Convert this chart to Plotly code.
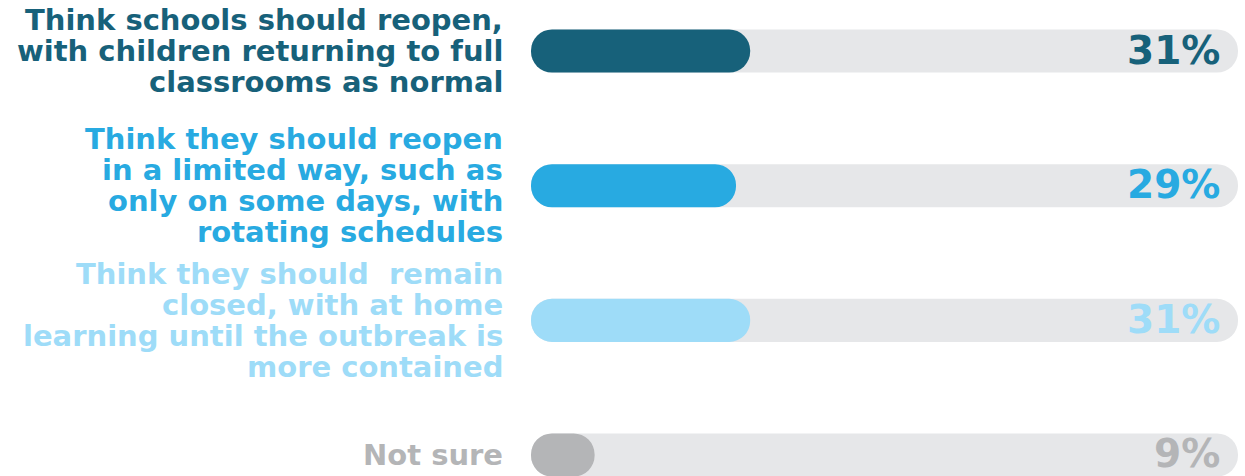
import plotly.graph_objects as go

# ---- data ----
categories = [
    "Think schools should reopen, with children returning to full classrooms as normal",
    "Think they should reopen in a limited way, such as only on some days, with rotating schedules",
    "Think they should  remain closed, with at home learning until the outbreak is more contained",
    "Not sure",
]
label_lines = [
    ["Think schools should reopen,", "with children returning to full", "classrooms as normal"],
    ["Think they should reopen", "in a limited way, such as", "only on some days, with", "rotating schedules"],
    ["Think they should  remain", "closed, with at home", "learning until the outbreak is", "more contained"],
    ["Not sure"],
]
values = [31, 29, 31, 9]
value_labels = ["31%", "29%", "31%", "9%"]
full_scale = 100

# ---- styles ----
colors = ["#17617a", "#28aae1", "#9edcf8", "#b4b5b7"]
track_color = "#e6e7e9"
FONT = "DejaVu Sans"
BAR_W = 0.32
LINE_H = 31

fig = go.Figure()

# background track (bars with an explicit base are rounded on both ends)
fig.add_trace(go.Bar(
    y=categories, x=[full_scale] * len(categories), base=[0] * len(categories),
    orientation="h", width=BAR_W,
    marker=dict(color=track_color, cornerradius="50%", line=dict(width=0)),
    hoverinfo="skip", showlegend=False,
))

# value pills
fig.add_trace(go.Bar(
    y=categories, x=values, base=[0] * len(categories),
    orientation="h", width=BAR_W,
    marker=dict(color=colors, cornerradius="50%", line=dict(width=0)),
    hovertemplate="%{customdata}<extra></extra>",
    customdata=value_labels, showlegend=False,
))

annotations = []
for cat, lines, col, vl in zip(categories, label_lines, colors, value_labels):
    n = len(lines)
    for i, line in enumerate(lines):
        offset = (i - (n - 1) / 2) * LINE_H
        annotations.append(dict(
            xref="paper", x=0, yref="y", y=cat,
            text=line, showarrow=False,
            xanchor="right", yanchor="middle",
            xshift=-26, yshift=-offset,
            font=dict(family=FONT, size=29, color=col, weight="bold"),
        ))
    annotations.append(dict(
        xref="x", x=full_scale, yref="y", y=cat,
        text=vl, showarrow=False,
        xanchor="right", yanchor="middle",
        xshift=-16, yshift=1,
        font=dict(family=FONT, size=39, color=col, weight="bold"),
    ))

fig.update_layout(
    width=1245, height=476,
    margin=dict(l=531, r=7, t=0, b=0),
    barmode="overlay",
    plot_bgcolor="white", paper_bgcolor="white",
    xaxis=dict(range=[0, full_scale], visible=False, fixedrange=True),
    yaxis=dict(type="category", categoryorder="array", categoryarray=categories,
               range=[3.156, -0.379], visible=False, fixedrange=True),
    annotations=annotations,
    showlegend=False,
)

fig.write_html(
    "out.html",
    config={"displayModeBar": False},
    post_script="document.body.style.margin='0';document.body.style.overflow='hidden';",
)
